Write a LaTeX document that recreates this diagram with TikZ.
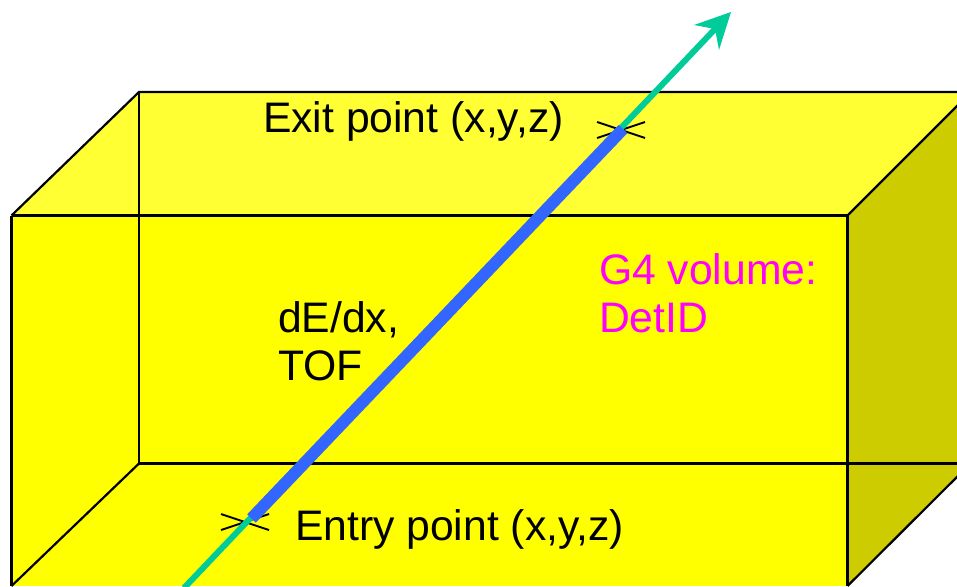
\documentclass[tikz,border=0pt]{standalone}
\usepackage{fontspec}
\setmainfont{Liberation Sans}
\definecolor{topY}{HTML}{FFFF33}
\definecolor{frontY}{HTML}{FFFF00}
\definecolor{sideY}{HTML}{CCCC00}
\definecolor{trackG}{HTML}{00CC99}
\definecolor{trackB}{HTML}{3366FF}
\definecolor{labelM}{HTML}{FF00FF}
\tikzset{
  edgeline/.style={black,line width=2.2pt},
  crossline/.style={black,line width=1.9pt},
  label/.style={anchor=base west,inner sep=0pt,outer sep=0pt,font=\fontsize{42.7}{48}\selectfont,align=left},
}
\begin{document}
\begin{tikzpicture}[x=1pt,y=-1pt]
\useasboundingbox (0,0) rectangle (957,586);
\clip (0,0) rectangle (957,586);
% box corners
\coordinate (ftl) at (11.5,215.5);
\coordinate (ftr) at (847.5,215.5);
\coordinate (fbl) at (11.5,586);
\coordinate (fbr) at (847.5,586);
\coordinate (btl) at (139,92);
\coordinate (btr) at (975,92);
\coordinate (bbl) at (139,463.5);
\coordinate (bbr) at (975,463.5);
\coordinate (rtop) at (970,93);
\coordinate (rbot) at (970,464);
% faces
\fill[frontY] (ftl) rectangle (fbr);
\fill[topY] (ftl) -- (btl) -- (btr) -- (ftr) -- cycle;
\fill[sideY] (ftr) -- (rtop) -- (rbot) -- (fbr) -- cycle;
% edges
\draw[edgeline] (ftl) -- (btl) -- (btr);
\draw[edgeline] (ftl) -- (ftr) -- (fbr);
\draw[edgeline] (ftl) -- (fbl);
\draw[edgeline] (ftr) -- (rtop);
\draw[edgeline] (fbr) -- (rbot);
\draw[edgeline] (btl) -- (bbl);
\draw[edgeline] (bbl) -- (bbr);
\draw[edgeline] (bbl) -- (fbl);
% crosses
\coordinate (xa1) at (597,122); \coordinate (xa2) at (645,138);
\coordinate (xa3) at (597,138); \coordinate (xa4) at (645,122);
\coordinate (xb1) at (221,514); \coordinate (xb2) at (269,530);
\coordinate (xb3) at (221,530); \coordinate (xb4) at (269,514);
\draw[crossline] (xa1) -- (xa2);
\draw[crossline] (xa3) -- (xa4);
\draw[crossline] (xb1) -- (xb2);
\draw[crossline] (xb3) -- (xb4);
% track
\coordinate (tstart) at (184,588);
\coordinate (tend) at (715,29);
\coordinate (tip) at (731,12);
\coordinate (hl) at (694,25);
\coordinate (hr) at (719,50);
\coordinate (bstart) at (251.5,518.5);
\coordinate (bend) at (623,129);
\draw[trackG,line width=6pt] (tstart) -- (tend);
\fill[trackG] (tip) -- (hl) -- (tend) -- (hr) -- cycle;
\draw[trackB,line width=12pt] (bstart) -- (bend);
% labels
\node[label] (exit) at (263,132) {Exit point (x,y,z)};
\node[label] (entry) at (295,540) {Entry point (x,y,z)};
\node[label] (dedx) at (278,380.5) {dE/dx,\\TOF};
\node[label,text=labelM] (vol) at (599,332) {G4 volume:\\DetID};
\end{tikzpicture}
\end{document}
